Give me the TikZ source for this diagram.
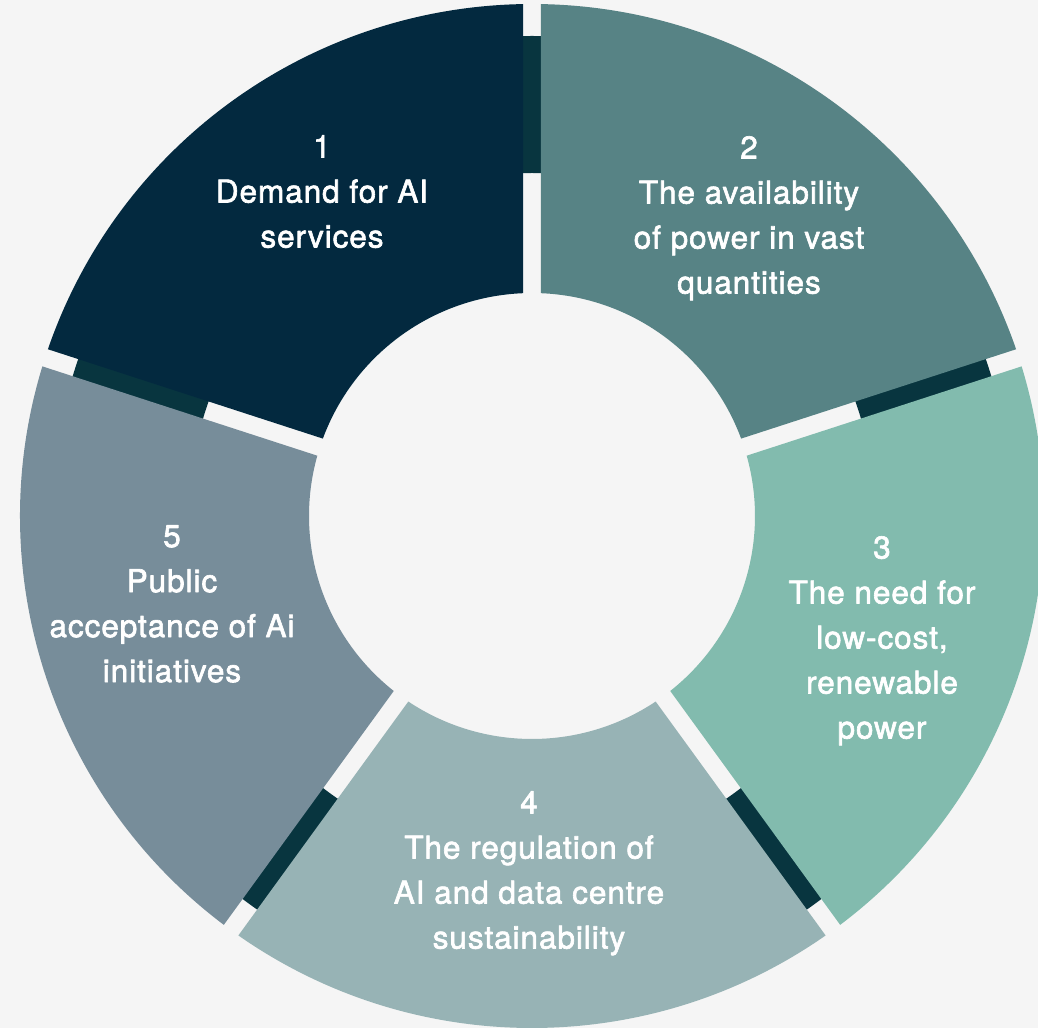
\documentclass[tikz,border=0pt]{standalone}
\usepackage{fontspec}
\setmainfont{TeX Gyre Heros}[LetterSpace=3,FakeBold=2]
\definecolor{bgcol}{HTML}{F5F5F5}
\definecolor{barcol}{HTML}{08353F}
\definecolor{segone}{HTML}{03293F}
\definecolor{segtwo}{HTML}{578385}
\definecolor{segthree}{HTML}{82BBAE}
\definecolor{segfour}{HTML}{97B3B5}
\definecolor{segfive}{HTML}{778D9A}

\begin{document}
\begin{tikzpicture}[line join=round,x=1pt,y=1pt,
		seglabel/.style={text=white,align=center,inner sep=0pt,anchor=north,
			font=\fontsize{31.5}{45}\selectfont}]
			\useasboundingbox (-532,-512) rectangle (506,516);
			\fill [bgcol] (-532,-512) rectangle (506,516);
			% dark ring, seen only through the gaps
			\fill [barcol,even odd rule] (0,0) circle (480) (0,0) circle (343);
			% half gap of 9 on outer and inner circle
			\pgfmathsetmacro{\dO}{asin(9/512)}
			\pgfmathsetmacro{\dI}{asin(9/223)}
			\foreach \a/\b/\col in {90/162/segone,18/90/segtwo,-54/18/segthree,-126/-54/segfour,162/234/segfive}
				\fill [\col] (\a+\dO:512) arc [start angle=\a+\dO,end angle=\b-\dO,radius=512]
					-- (\b-\dI:223) arc [start angle=\b-\dI,end angle=\a+\dI,radius=223] -- cycle;
			\node [seglabel] (demand) at (-210,381) {1\\Demand for AI\\services};
			\node [seglabel] (power) at (217,380) {2\\The availability\\of power in vast\\quantities};
			\node [seglabel] (renewable) at (350,-20) {3\\The need for\\low-cost,\\renewable\\power};
			\node [seglabel] (regulation) at (-3,-275) {4\\The regulation of\\AI and data centre\\sustainability};
			\node [seglabel] (acceptance) at (-360,-9) {5\\Public\\acceptance of Ai\\initiatives};
		\end{tikzpicture}
\end{document}
